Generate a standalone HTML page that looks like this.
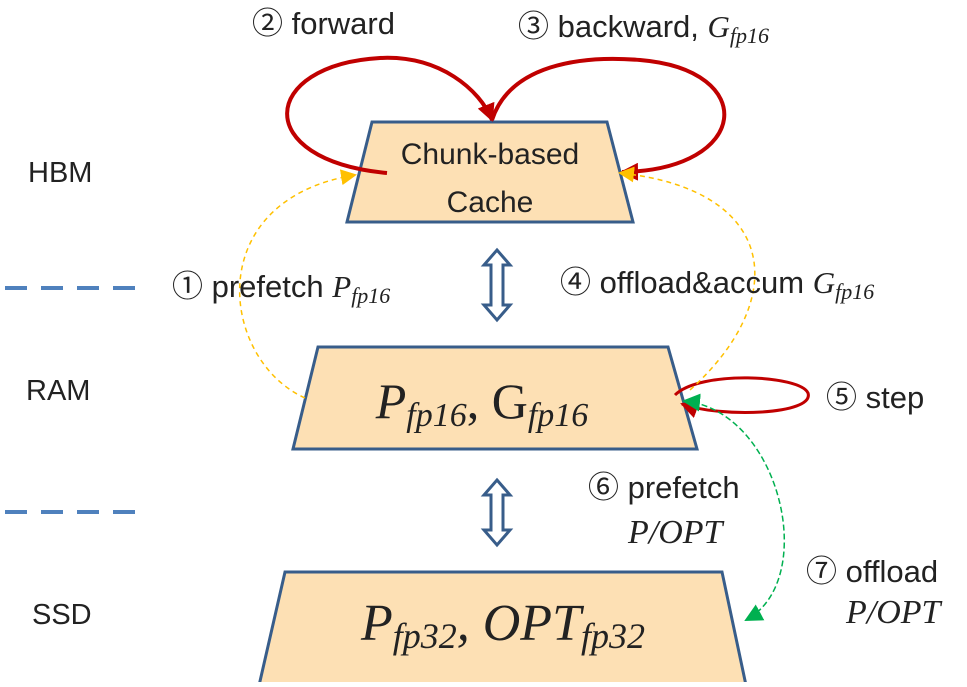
<!DOCTYPE html>
<html><head><style>
body{margin:0;background:#fff}
svg text{font-family:"Liberation Sans","Noto Sans CJK SC",sans-serif;fill:#222}
.m{font-family:"Liberation Serif",serif;font-style:italic}
</style></head><body>
<svg width="967" height="682" viewBox="0 0 967 682" xmlns="http://www.w3.org/2000/svg">
<defs>
<marker id="rb" markerWidth="18" markerHeight="18" refX="16" refY="9" orient="auto" markerUnits="userSpaceOnUse"><path d="M0,0 L18,9 L0,18z" fill="#c00000"/></marker>
<marker id="y" markerWidth="16" markerHeight="16" refX="14" refY="8" orient="auto" markerUnits="userSpaceOnUse"><path d="M0,0 L16,8 L0,16z" fill="#ffc000"/></marker>
<marker id="g" markerWidth="18" markerHeight="18" refX="16" refY="9" orient="auto-start-reverse" markerUnits="userSpaceOnUse"><path d="M0,0 L18,9 L0,18z" fill="#00b050"/></marker>
</defs>
<line x1="5" y1="288" x2="140" y2="288" stroke="#4f81bd" stroke-width="4" stroke-dasharray="22,14"/>
<line x1="5" y1="512" x2="145" y2="512" stroke="#4f81bd" stroke-width="4" stroke-dasharray="22,14"/>
<text x="28" y="182" font-size="29">HBM</text>
<text x="26" y="400" font-size="29">RAM</text>
<text x="32" y="624" font-size="29">SSD</text>
<polygon points="372,122 607,122 633,222 347,222" fill="#fde0b4" stroke="#385d8a" stroke-width="3"/>
<polygon points="318,347 668,347 697,449 293,449" fill="#fde0b4" stroke="#385d8a" stroke-width="3"/>
<polygon points="285,572 722,572 747,690 258,690" fill="#fde0b4" stroke="#385d8a" stroke-width="3"/>
<text x="490" y="164" font-size="30" text-anchor="middle">Chunk-based</text>
<text x="490" y="212" font-size="30" text-anchor="middle">Cache</text>
<text x="482" y="418" font-size="50" text-anchor="middle" class="m">P<tspan font-size="34" dy="8">fp16</tspan><tspan dy="-8" font-style="normal">, G</tspan><tspan font-size="34" dy="8">fp16</tspan></text>
<text x="503" y="640" font-size="52" text-anchor="middle" class="m">P<tspan font-size="36" dy="8">fp32</tspan><tspan dy="-8">, OPT</tspan><tspan font-size="36" dy="8">fp32</tspan></text>
<path d="M387,173 C250,160 260,65 380,58 C440,55 480,90 492,120" fill="none" stroke="#c00000" stroke-width="4" marker-end="url(#rb)"/>
<path d="M492,120 C510,65 580,55 640,60 C760,70 750,170 622,172" fill="none" stroke="#c00000" stroke-width="4" marker-end="url(#rb)"/>
<path d="M675,395 C700,370 800,375 808,393 C815,415 720,418 682,404" fill="none" stroke="#c00000" stroke-width="3" marker-end="url(#rb)"/>
<path d="M305,398 C220,360 200,200 355,175" fill="none" stroke="#ffc000" stroke-width="1.5" stroke-dasharray="5,4" marker-end="url(#y)"/>
<path d="M690,390 C790,300 780,190 620,173" fill="none" stroke="#ffc000" stroke-width="1.5" stroke-dasharray="5,4" marker-end="url(#y)"/>
<path d="M684,401 C780,410 820,580 746,620" fill="none" stroke="#00b050" stroke-width="1.5" stroke-dasharray="6,3" marker-start="url(#g)" marker-end="url(#g)"/>
<g fill="#fff" stroke="#385d8a" stroke-width="3">
<path d="M497,250 L510,265 L503,265 L503,305 L510,305 L497,320 L484,305 L491,305 L491,265 L484,265z"/>
<path d="M497,480 L510,495 L503,495 L503,530 L510,530 L497,545 L484,530 L491,530 L491,495 L484,495z"/>
</g>
<text x="252" y="34" font-size="31">② forward</text>
<text x="518" y="37" font-size="31">③ backward, <tspan class="m">G</tspan><tspan class="m" font-size="22" dy="6">fp16</tspan></text>
<text x="172" y="297" font-size="31">① prefetch <tspan class="m">P</tspan><tspan class="m" font-size="22" dy="6">fp16</tspan></text>
<text x="560" y="293" font-size="31">④ offload&amp;accum <tspan class="m">G</tspan><tspan class="m" font-size="22" dy="6">fp16</tspan></text>
<text x="826" y="408" font-size="31">⑤ step</text>
<text x="588" y="498" font-size="31">⑥ prefetch</text>
<text x="628" y="543" font-size="34" class="m">P/OPT</text>
<text x="806" y="582" font-size="31">⑦ offload</text>
<text x="846" y="623" font-size="34" class="m">P/OPT</text>
</svg>
</body></html>
